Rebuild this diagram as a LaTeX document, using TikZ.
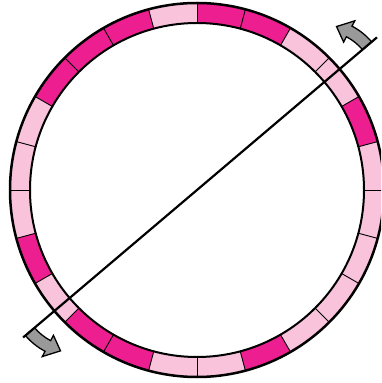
\documentclass[tikz,border=0pt]{standalone}
\usetikzlibrary{calc}
\definecolor{darkpink}{HTML}{ED1E8F}
\definecolor{lightpink}{HTML}{F8C3DB}
\definecolor{arrowgray}{HTML}{999999}
\tikzset{
  segdiv/.style={draw=black, line width=0.9},
  outerrim/.style={draw=black, line width=2.5},
  innerrim/.style={draw=black, line width=2},
  axisline/.style={draw=black, line width=2.2},
  rotarrow/.style={fill=arrowgray, draw=black, line width=1.3, line join=miter},
}
\newcommand{\rotarrowpath}{%
  \draw[rotarrow] (-6,0) arc[start angle=0, end angle=22, radius=54]
     -- ($(-60,0)+(22:48)$) -- ($(-60,0)+(35:60)$) -- ($(-60,0)+(22:72)$)
     -- ($(-60,0)+(22:66)$) arc[start angle=22, end angle=0, radius=66] -- cycle;}
\begin{document}
\begin{tikzpicture}[x=1pt,y=1pt]
\useasboundingbox (0,0) rectangle (381,383);
\clip (0,0) rectangle (381,383);
\begin{scope}[shift={(197,193)}]
\coordinate (C) at (0,0);
% ring segments
\foreach \c [count=\n from 0] in {lightpink,darkpink,lightpink,lightpink,darkpink,darkpink,
  lightpink,darkpink,darkpink,darkpink,lightpink,lightpink,
  lightpink,darkpink,lightpink,darkpink,darkpink,lightpink,
  lightpink,darkpink,lightpink,lightpink,lightpink,lightpink}{
  \pgfmathsetmacro\aa{15*\n}
  \pgfmathsetmacro\bb{15*\n+15}
  \fill[\c] (\aa:167) arc[start angle=\aa, end angle=\bb, radius=167]
     -- (\bb:187) arc[start angle=\bb, end angle=\aa, radius=187] -- cycle;
}
\foreach \n in {0,...,23}{
  \pgfmathsetmacro\aa{15*\n}
  \draw[segdiv] (\aa:167) -- (\aa:187);
}
\draw[outerrim] (C) circle[radius=187];
\draw[innerrim] (C) circle[radius=167];
% rotation arrows
\begin{scope}[shift={(40.3:223)}, rotate=40.3]
  \rotarrowpath
\end{scope}
\begin{scope}[shift={(220.3:219)}, rotate=220.3]
  \rotarrowpath
\end{scope}
% axis
\coordinate (L1) at (220.3:228);
\coordinate (L2) at (40.3:236);
\draw[axisline] (L1) -- (L2);
\end{scope}
\end{tikzpicture}
\end{document}
